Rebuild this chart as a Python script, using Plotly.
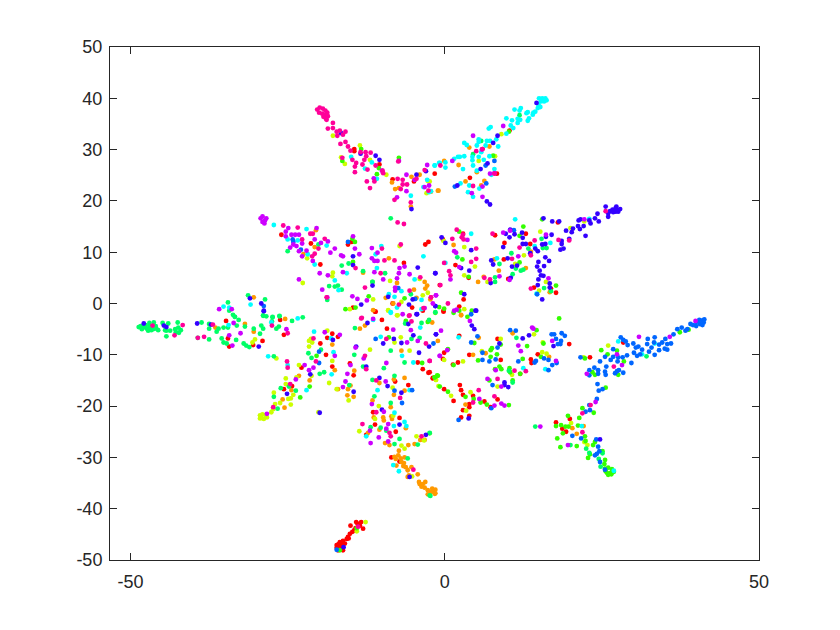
import plotly.graph_objects as go

red = [(-17.2,-47.1),(-16.7,-46.5),(-16.2,-46.3),(-15.6,-45.9),(-15.9,-46.8),(-16.6,-47.5),(-17,-48.1),(-16.2,-48.1),(-15.1,-44.9),(-14.7,-44.5),(-15.4,-45.5),(-14.1,-42.6),(-13.3,-42.6),(-15,-43.3),(-13.5,-43.3),(-13,-43.9),(-13.9,-42.9),(-14.2,-43.8),(-14.4,-44.2),(-16.9,-46.9),(-16.4,-47),(-15.3,-45.8),(-17.2,-47.6),
(-8.5,-30),(-7.2,-30.8),(-12.5,-25.6),(-11.1,-23.6),(-11.4,-21.2),(-7.8,-25),(-7.2,-22.3),(-5.8,-15.9),(-14.5,-14),(-17.9,-12.3),(-18.9,-10),(-17.9,-5.9),(-17,-6.5),(-18.7,-6.7),(-19.8,-7.8),(-25.6,-16.7),(-24.3,-16.1),(-22.8,-12.5),(-25.6,-6.1),(-30.5,-8.1),(-29,-7.3),(-34.5,-6.8),(-34.3,-8.4),(-34.8,-3.4),(-26.2,-3.2),(-15.1,-11.7),(-7.9,-15.2),(-9.2,-4.9),(-10,-3.2),(-3.5,-12.8),(-2.6,-13.5),(-1.9,-14.6),(-4.3,-11.5),(-11,-1.6),(-3.5,-1.4),
(-14.4,30.1),(-14.4,29.7),(-10.4,27.1),(-8.3,24.2),(-4.9,23.8),(-1.6,25.3),(-26,13.4),(-21.3,11.7),(-19.8,7.6),(-15.4,11.5),(-14.8,12),(-6.5,7.9),(-3.1,11.5),(-2.6,12),(-0.8,3.6),(-8.3,0),(-5.2,-0.8),(-11.1,-1.6),(-14.6,-0.8),
(4,24.5),(6,30.1),(8.3,25.3),(10.3,33.7),(18,15.8),(12.9,13.6),(8,13.3),(9.5,11.8),(13.6,11.6),(2.9,13.6),(-0.3,12.5),(9.4,8.6),(1.7,7.5),(3.8,5),(10.1,4.8),(14.2,3.1),(16.9,2.9),(17.7,2.1),(3,0.8),(2.3,-0.6),(-0.2,-1.6),
(19.8,-7.9),(23.1,-10.5),(28.4,-7.6),(17.7,-23.2),(19.9,-22.5),(18.7,-24.4),(19.3,-25),(14.8,-9.9),(13.7,-10.9),(13.8,-11.6),(8.9,-11),(8.4,-6.9),(3.9,-10),(2.1,-11.5),(1.3,-11.9),(-0.1,-9.6),(-0.3,-10.8),(2.3,-6.3),(2.4,-15.9),(2.6,-16.9),(-0.1,-16.7),(2.9,-17.8),(1.4,-19),(4.5,-18),(3.9,-19.6),(3.9,-20.2),(2.9,-20.8),(2.6,-22.2),(3.9,-21.9),(6.3,-19.1),(8.4,-18.7),(7.3,-20.2),(12,-13.7),(-2.4,-13.4),(-1.9,-14.5),(-0.2,-1.4)]

orange = [(-7.3,-28.7),(-7.4,-29.6),(-7.8,-30.3),(-6.4,-30),(-6.9,-30.9),(-6.2,-31.9),(-5.3,-31.9),(-5.9,-32.5),(-5.7,-33.5),(-4.3,-33.3),(-4.1,-34.8),(-3.1,-34.8),(-3.7,-35.7),(-3.2,-35.9),(-2.7,-36.4),(-1.9,-36.4),(-2.7,-37.2),(-1.5,-37),(-2.2,-36.8),(-7.7,-31.6),(-5.9,-33.8),(-5.8,-27.6),(-4.8,-27.4),(-3.2,-26.6),(-3.9,-26.6),(-7,-30.2),(-6.5,-31.1),(-6.6,-31.7),(-4,-35.2),(-3.5,-35.2),(-8,-29.9),
(-8.8,-27.6),(-9.5,-27.2),(-12.2,-25.2),(-10.4,-24.6),(-9.7,-22.8),(-9.8,-22.2),(-8.4,-22.5),(-11.3,-22.2),(-8.5,-22),(-6.2,-24.3),(-8.6,-20.2),(-8.1,-17.8),(-6.4,-17),(-6.4,-14.5),(-8.1,-14.8),(-11.5,-18.9),(-10.4,-15.5),(-15.5,-17.9),(-14.5,-18.2),(-15.4,-16.7),(-15,-16),(-14.4,-13.1),(-17.5,-13),(-17,-16.7),(-21.5,-15),(-23.2,-14.1),(-25.5,-20.3),(-25.8,-18.7),(-24.4,-16.9),(-25.4,-3),(-31.8,-4),(-36.5,-4.7),(-30.4,-5.5),(-13.5,-4.9),(-12.7,-4.3),(-17.9,-8),(-6.9,-9.2),(-2,-3.7),(-1.1,-7.3),
(-20.5,14.3),(-20.7,11),(-22.5,9.6),(-8.9,8.8),(-7.6,4),(-3.2,4.2),(-2.8,3.5),(-3.1,2.9),(-4.9,2.7),(-13,6),(-9.4,1.1),(-8.2,0),(-4.5,1.1),(-2.3,0.8),(-11.4,-1.3),(-30.4,1.2),(-5.3,24.7),(-8.4,23.6),(-7.9,22.3),(-7.3,22.5),(-4,25.1),(-5.4,18.9),(-1.1,22),(-2.2,21.8),
(-1,22),(3.3,23.8),(6.3,23.9),(5.8,23),(5.1,25.6),(2.2,27),(-0.1,27.8),(3.9,30.4),(7.1,30.6),(1.4,11.4),(5.3,4.2),(8.6,6.4),(12.9,6.9),(6.2,5.2),(16.7,2.2),(2.6,-2.3),(7.9,8.6),(13.7,10.1),
(2.6,-2.2),(5.4,-6.7),(4.5,-10),(6.5,-9.7),(3.3,-19.7),(20.3,-24.3),(21,-25.4),(22.1,-23.9),(10.8,-5.8),(16.6,-10.4),(-2,-36.1),(-1.6,-37.1),(-1.5,-36.3)]

lime = [(-29.4,-21.8),(-29,-21.6),(-28.5,-21.8),(-29.2,-22.3),(-28.8,-22.5),(-28.3,-22.2),(-29.4,-22.4),(-27.3,-20.6),(-27.6,-21.2),(-27,-19.6),(-26.2,-19.4),(-24.5,-19.7),(-24.5,-18.5),(-24.1,-17.8),(-24.9,-18.6),(-27.2,-17.4),(-25.3,-14.6),(-25.3,-15.7),(-23.6,-14.4),(-23.2,-12),(-26.8,-10.7),(-21.6,-7.3),(-21.3,-6.9),(-21.1,-7.6),(-21.6,-8.4),(-18.7,-5.3),(-17.9,-11.2),(-11.9,-9),(-18.4,-15.5),(-17.2,-16.7),(-21.2,-14.1),(-15.3,-18.9),(-20.1,-21.2),(-30.6,-7.6),(-30.2,-7),(-10.5,-20),(-11.1,-22.5),(-13.6,-24.9),(-8.3,-16.4),(-8.2,-21.9),(-6.4,-28.3),(-6.9,-27.7),(-4.5,-25.9),(-3.3,-26.7),(-5.2,-33.7),(-12.6,-42.6),(-14,-44.4),(-7,-6.6),(-8,-7.6),(-5.6,-9.2),(-7.5,-2.3),(-9,-1.4),(-1.4,-14.9),(-1,-16.1),
(-13.5,30.8),(-17.8,32.7),(-16.5,28.5),(-15.9,27.2),(-11.9,28),(-9.3,25.1),(-7.2,11.2),(-21.9,8.8),(-22.6,4),(-17.8,6),(-17.9,5.3),(-8.7,4.4),(-4,4.8),(-2.7,2.1),(-3.5,1.6),(-11.4,0.8),(-6.9,0.3),(-15.1,-1.1),(-9,-1.3),(-7.6,-2.3),(-2.9,21.5),(-2.7,23.9),
(9,33),(5.4,27.8),(8,28.7),(-2.4,23.8),(15.2,14),(-0.2,12.2),(3.1,11),(12.6,9.4),(11.2,7.7),(4.8,7.2),(3.1,5.5),(6.8,4.2),(16.1,4.2),(15,2.5),(3.1,-1.1),(20,14.7),(22.2,16),
(26,-8.2),(22.1,-10.5),(8.9,-6.9),(5.9,-9.3),(2.9,-11.3),(-0.1,-11),(-1.4,-14.9),(1,-18),(4.1,-17.3),(8.4,-16.2),(10.7,-13.9),(15.5,-9.5),(16.2,-9.8),(15.6,-7.6),(20.1,-23.3),(22.2,-27),(22.7,-27.6),(14.2,-6),(3.4,-20.9)]

green = [(25.5,-32.2),(26,-32),(26.6,-32.3),(26.9,-32.8),(26.4,-33),(25.8,-33),(26,-33.4),(26.5,-33.3),(25.6,-32.7),(25.5,-30.5),(25.4,-31.3),(25.1,-28.8),(23.9,-27),(23.6,-27.6),(23.1,-29.4),(22.8,-30.1),(22.4,-26.8),(22.3,-25.9),(21,-27.8),(18.4,-28),(17.9,-26.3),(18.8,-25.3),(17.7,-23.9),(18.5,-23.7),(19.2,-24),(19.7,-24),(21.2,-23.8),(19.6,-21.9),(21.4,-22.3),(21.9,-20.4),(23.7,-21.3),(25.6,-16.4),(23.9,-13.9),(23.5,-13.4),(22.3,-10.7),(24.9,-9.1),(25.9,-9.9),(27.4,-9.2),(28.5,-11.3),(27.6,-13.9),(37.4,-5.6),(38.8,-5.1),(18.2,-2.9),(15.7,-7.8),(13.1,-8.3),(14.6,-5.2),(12.4,-10.8),(15.3,-10.4),(8.9,-8),(7.5,-8.7),(7.3,-9.1),(8.3,-9.9),(7.3,-10.4),(5.3,-11.1),(4.7,-7.7),(1.4,-12),(8,-12.8),(8.7,-12.3),(9,-12.8),(10.3,-12.6),(10.4,-13.4),(12,-13.7),(7.1,-15),(10.8,-15),(5.7,-19.3),(6.7,-19.7),(10.2,-19.8),(4.6,-18.6),(3.3,-18.2),(0.5,-17.2),(-0.8,-16.2),(-1.1,-14.1),(-1.6,-14.4),(-2.4,-25.3),(0.5,-8.9),
(12.5,15),(15.5,16.4),(2.3,14),(2.8,8.6),(11.9,8),(3.8,5.2),(17.7,3.5),(2.6,2.1),(7.7,28.8),(11.9,13.2),(-0.1,-1),(2.3,-1.4),(4.3,-1.4),(1.4,-1.8),(3.6,-2.6),(-0.9,-0.7),(10.2,33.5),
(-13.3,30.1),(-16.3,27.8),(-10.5,26.4),(-10.8,25.2),(-7.3,28.4),(-14.3,12),(-14.7,12.6),(-14.6,8.1),(-11.5,4.2),(-12.1,1.4),(-15.8,-1.1),(-14.2,-0.8),(-6.4,1),(-1.5,-1.8),
(-20.4,-10.2),(-21.5,-16.2),(-23,-18.3),(-6.2,-3.4),(-2.7,-3.6),(-1.6,-14.4),(-1.2,-14),(-8.9,-6.6),(-3.6,-11.6),(-16.7,-48.1),(-14,-43.8)]

spring = [(-48.4,-4.4),(-48,-4.7),(-47.6,-4.2),(-47.4,-4.9),(-47,-4.4),(-46.8,-4.8),(-46.4,-5),(-46,-4.4),(-45.9,-4.9),(-45.6,-5.2),(-47,-3.8),(-46.3,-3.7),(-44.9,-3.8),(-44.5,-5.2),(-44,-3.9),(-43.7,-5.3),(-44.3,-5.3),(-42.9,-5),(-42.4,-4.7),(-42.3,-5.7),(-42,-5.2),(-42.8,-5.6),(-42.5,-3.7),(-44.3,-6.4),(-48.7,-4.6),(-48.2,-5),(-47.2,-5.3),(-46.7,-5.2),
(-38.7,-3.7),(-37.5,-4),(-37.5,-4.9),(-36,-4.9),(-35.2,-4.7),(-36.3,-5.5),(-34.5,-4.7),(-33.1,-4.3),(-31.8,-4.5),(-32.8,-3.2),(-33.7,-2.2),(-33.4,-2.6),(-34.3,-1.4),(-39.3,-6.7),(-37.5,-7),(-35.5,-6.8),(-35.2,-7.6),(-34.7,-7.8),(-33.2,-7.1),(-32,-7.8),(-31.6,-8.2),(-31.1,-8.5),(-29.4,-5.9),(-30.4,-4.9),(-29.2,-4.3),(-28.9,-4.9),(-28.9,-2.4),(-28.4,-2.5),(-27.4,-2.7),(-26.3,-2.5),(-26.8,-4.9),(-26.4,-4.5),(-24.3,-3.4),(-22.6,-2.7),(-27.5,-3.5),(-27.2,-10.3),(-26.1,-16.5),(-27.2,-18.2),(-26.6,-20.5),(-23.7,-17),(-24.8,-16.2),(-21.7,-9.7),(-21.2,-10.6),(-19.7,-9),(-19.9,-13.7),(-19.2,-13.4),(-14.3,-4.8),(-14.4,-10),(-13,-12.3),(-9.7,-12.6),(-11.5,-14.9),(-8,-14.1),(-8.6,-9.2),(-6.4,-11.5),(-8.6,-19.4),(-11.2,-18.1),(-11.8,-24.1),(-10.2,-24.2),(-9.3,-24.8),(-8,-27.4),(-7.2,-26.4),(-4.3,-27.5),(-2.4,-25.2),(-2.3,-37.5),(-5.9,-30.2),(-5.3,-6.9),(-3.7,-3.8),(-4,-6.7),(-6.3,-3.9),(-2.5,-3.2),(-15.2,-15.9),
(-8.6,16.6),(-18.4,3.4),(-17.5,3.3),(-17,3.5),(-16.4,2.7),(-16.4,7.4),(-15.3,7.8),(-13,6.3),(-9.5,5.9),(-11.5,4.2),(-20.1,11.5),(-25,10.2),(-31.3,1.6),(-34.5,0.2),(-28.6,0.8),(-33.4,-2.6),(-28.9,-2.3),(-26.3,-2.4),(-27.4,-2.6),(-18.7,0.7),(-5.4,1.8),
(11.9,36.7),(4.5,29.1),(5.8,31.7),(15.4,12.6),(13.3,10.7),(15.6,10.8),(16.2,10.8),(10.6,9.8),(8.7,7.7),(11.3,6.8),(12.1,6.4),(12.5,6.6),(10.8,5.7),(8,5.1),(8,4.2),(15.8,3),(16.9,2.4),(2,9),(-1.5,-1.7),
(22.5,-28.3),(23,-29.1),(25.1,-29.2),(24.5,-30.3),(24.8,-31.8),(14.4,-24),(10.2,-13.1),(10.8,-15.4),(11.4,-6.7),(32.1,-10.3),(-2.4,-37.4),(20,-27.6)]

cyan = [(15,40),(15.5,40),(16,40),(15.3,39.4),(15.8,39.4),(16.2,39.6),(14.9,38.8),(15.2,38.3),(14.8,38.1),(14.4,37.4),(14.1,37.2),(13.2,37.3),(13,37.1),(14,36.8),(12.1,38.1),(11.9,37.6),(11.1,37.8),(9.8,36.1),(10.7,35.7),(11.6,36),(12,35.8),(11.6,35.2),(13.4,36.1),(13.2,35.6),(10.5,34.7),(10.9,34.2),(9.8,33.1),(7.3,34.4),(7,34.1),(8.2,32),(6.7,31.7),(7.2,31.7),(5.4,32),(5.4,31.5),(3.1,31.3),(3.5,30.9),(5.1,30.8),(8.5,30.6),(6.5,30.8),(5.8,29.5),(4.4,28.6),(5.4,28.6),(4.4,27.9),(6.2,28),(7.1,28.7),(2.4,28.6),(2.1,28.6),(3.1,28.7),(1.5,28.2),(0.1,27.5),(-0.8,27.4),(-1.6,26.9),(0.1,26.5),(2.9,26.2),(4.5,26.9),(7.9,26.2),(5.1,25.9),(7.4,25.1),(2.5,23.4),(3.9,23),(5.5,22.4),(3.7,21.7),(4.5,20.8),(-2.2,21.9),
(11.2,16.4),(23,16.5),(14.3,11.2),(16.8,11.8),(4.2,13.6),(8.3,8.8),(0.1,7.9),(14.6,1.9),
(-14.9,28.6),(-11.6,27.5),(-12.7,26.3),(-10.8,24.3),(-2.8,24.1),(-5.4,21),(-3.4,22.7),(-2.5,21.7),(-1.6,26.9),(-0.9,27.4),(-27.2,15.3),(-22,14.5),(-25,12.5),(-23.4,12.3),(-18.8,11.3),(-21.8,9.6),(-20.7,7.6),(-10.1,11.2),(-11,9.6),(-3.4,9.2),(-10.8,6.9),(-17.5,4.5),(-15.6,5.9),(-16.9,2.6),(-4.8,4.7),(-30.9,-0.2),(-35.2,-0.6),(-34.3,-0.8),(-8.9,1.8),(-8,1.3),(-6.9,2.4),(-7.6,-0.8),(-8.6,-1.7),(-3.7,0.7),(-3.7,-1.1),
(-23.4,-2.9),(-27.6,-3.7),(-34.4,-4.2),(-28.1,-10.3),(-20.8,-5.5),(-17.7,-9.5),(-18.1,-6.8),(-18,-13.8),(-22,-16.9),(-25,-12),(-8.6,-1.8),(-10.2,-6.5),(-5,-11.5),(-5.6,-16.9),(-10.7,-16.9),(-8,-21.3),(-6.4,-23.1),(-6.1,-23.9),(-8.2,-31.5),(-7.3,-32.7),(-12.5,-25.9),(-8.1,-23.9),(-11.4,-3.2),(-6.8,-10.2),(-3.9,-4.7),
(2.2,-6.6),(12.5,-12.6),(16,-12.8),(21.8,-23.9),(26.9,-32.6),(27.6,-7.4),(31.4,-9.9),(33.4,-7.8)]

azure = [(40,-3.6),(40.5,-3.2),(41,-3.3),(41.2,-3.7),(40.6,-4),(41,-4.2),(40,-4.4),(41.3,-3.1),(39.5,-4.2),(39.1,-4),(38.3,-5.3),(38.6,-5),(37.7,-4.7),(37,-5),(36.4,-6),(35.1,-6.9),(34.6,-7.6),(36,-7.8),(35.4,-7.9),(35,-8.8),(35.4,-9),(34.1,-8),(34.1,-9.1),(33.4,-6.6),(33.3,-7.6),(32.3,-6.9),(32.2,-7.9),(32.9,-8.6),(32.5,-9.4),(33.4,-10),(31.4,-9),(30.8,-8.4),(30.4,-8.6),(30,-7.8),(30.1,-9.6),(30.6,-10.2),(31.1,-9.9),(29.1,-8.1),(28.8,-7.4),(28,-6.6),(28.4,-7.1),(29,-10.1),(28.3,-10.5),(27.6,-10.5),(27.5,-11.3),(26.8,-8.9),(26.8,-10.4),(26.4,-11),(25.5,-10.4),(24.7,-11.3),(29.7,-11.6),(25.7,-12.3),(25.5,-13.3),(25.6,-13.9),(27.1,-13.6),(27.4,-13.2),(27.7,-13),(28.4,-13.5),(23.8,-12.5),(24.4,-13),(24.4,-13.7),(23,-13),(23,-14),(21.6,-10.5),(24.3,-15.7),(24.5,-17),(25.1,-16.7),(24.2,-18.6),(23.1,-20.8),(22.4,-21.1),(20.3,-25.8),(21.7,-26.3),(23,-19.8),(24.1,-26.5),(24.4,-27.9),(24.6,-28.8),(24.2,-29.3),(23.9,-29.6),(24.7,-30.9),(25.5,-32.4),
(10.4,-5.2),(11.3,-5.3),(17.4,-6),(17,-6),(18.6,-5.8),(19.1,-6.3),(18.5,-7.3),(17.7,-6.9),(18,-7.9),(18.4,-7.9),(5.2,-6.4),(4.2,-7.6),(8.4,-8.6),(6,-9.6),(8.1,-10.9),(7.1,-11.3),(6,-11),(-1.8,-7.8),(11.7,-11.3),(14.5,-11.2),(14.3,-11.5),(15.8,-10.7),(16.5,-11),(17.1,-12),(17.8,-11.6),(16.5,-13),(7.6,-15.9),(7.4,-20.4),(2.2,-22.7),
(-20,-11.6),(-20,-9.4),(-8,-17),(-5.2,-16.9),(-6.8,-19.4),(-17.2,-48),(-11,-6.9),
(7.9,27.8),(6.5,26.9),(6.6,23.4),(1.6,22.8),(11,14.3),(14.7,1.8),(4.2,-2.1),
(-24.2,12.5),(-24.1,12),(-22.9,10.5),(-15.4,12),(-28.8,-0.5),(-7.4,3),(-4.7,0.9)]

blue = [(-13.4,29.2),(-11,28.8),(-10.4,28),(-4.5,25.1),(-5.3,18.4),(-3,25.8),(-14.6,9.2),(-14.6,7.5),(-4.3,7),(-1.5,5.9),(-11.5,3.5),(-13.3,-0.2),(-5.7,-0.2),(-5.1,0.8),(-4.5,-2.1),(-1.5,-0.5),(-9,1.3),(-31,1),(-29.2,0),(-28.8,-1.5),(-16.5,33.2),
(14.6,39.1),(8.4,32.7),(7.7,31.3),(5.7,26.2),(6.8,27.3),(6.7,19.9),(7.2,19.3),(2,23),(26.3,18),(26.7,18.3),(27.2,18.6),(27.5,18.2),(27.9,18.4),(27.2,17.9),(26.8,17.8),(27.6,17.9),(27.3,18.9),(25.6,18.9),(26,17.6),(26,16.9),(24.3,17.5),(23.9,16.6),(24.5,16),(23,16.2),(23.2,15.6),(21.6,16.4),(21.3,16.2),(21.2,15.1),(20.4,14.6),(21.5,14.5),(22.1,15.1),(20.2,13.9),(19.3,14.2),(18.2,16),(17.1,16),(15.7,16.6),(22.4,13.2),(19.8,12.6),(18.6,12.2),(18.6,11.6),(18.9,10.7),(18.4,10.5),(17,13.4),(16.1,13),(16,11.6),(15.5,11.5),(14.8,10.2),(14.4,10.7),(12.9,11.6),(12.4,11.6),(12.4,12.8),(12.3,13.8),(11.1,13.5),(10.4,14.4),(9.7,13.6),(10.3,12.9),(9.3,11),(4.2,10.4),(-0.5,12.9),(0.1,11.8),(-1.5,5.9),(3.9,6.4),(2.6,6.9),(7.4,8.4),(7.7,7.6),(10,8.8),(10.7,7.2),(11.5,7.4),(13.6,9.8),(14.9,8.1),(14.7,7.2),(15.8,7.3),(16.6,8.3),(15.1,6.4),(15.3,5.5),(15.7,5.4),(14.9,4.7),(14.8,3.6),(16.7,3.9),(16.7,3.1),(15.5,0.8),(16,9),(10.5,5),(7.3,4),(3.1,1.8),(-1.5,-0.5),(5,-1.4),
(-47.9,-3.9),(-44.7,-4.3),(-44.3,-4.6),(-39.4,-3.9),(-37.2,-4.1),(-28.8,-1.4),(-29.6,-8.4),(-21.4,-13.8),(-19.9,-21.3),(-25.1,-17.6),(-17.8,-7.1),(-14.1,-8.4),(-12.3,-3.8),(-9.8,-7.8),(-8.1,-6.9),(-6.9,-7.7),(-5,-6.2),(-4.1,-9.6),(-2.5,-8.4),(-1.4,-6),(-4.4,-2.1),(-5.8,-4),(-12.5,-12.3),(-10.4,-14.5),(-9.1,-16.1),(-6.9,-17.4),(-14.5,-17.2),(-10,-20.7),(-7.2,-23.6),(-3,-25.6),(-5.6,-33.8),(-16.1,-47.5),
(4.9,-1.4),(4.3,-4.3),(4.7,-5),(-1.4,-6),(8.7,-7.8),(12.4,-6.8),(13.4,-6.2),(17.3,-8.3),(9.5,-15.4),(9.5,-15.9),(10.1,-16.3),(3.8,-22.4),(24.7,-26.5)]

purple = [(-29.3,16.6),(-29,17),(-28.6,16.2),(-29,15.9),(-28.4,16.6),(-28.7,15.6),(-24.9,14.7),(-25.3,14),(-25.3,13.1),(-24.4,13.4),(-23.8,13.4),(-23.2,13.4),(-20.4,14.7),(-20.7,12.5),(-22.7,11.7),(-23.6,11.2),(-24.6,10.9),(-24.1,11.5),(-22,10.3),(-23.2,10.2),(-22.7,9.2),(-19.7,11.8),(-18.6,12.1),(-17.5,10.7),(-18.2,9.9),(-16.5,9.4),(-16.2,9.2),(-21,8.3),(-14.6,13.1),(-14.3,10.7),(-13.6,9.6),(-11.6,10.8),(-10.7,9.9),(-11.6,8.8),(-11.2,8.3),(-10.7,8.3),(-6.4,7.2),(-7.2,6.9),(-7.3,5.9),(-5.6,5.7),(-7.6,4.9),(-11.2,6.1),(-9.8,4.7),(-16.2,6.1),(-18.6,5.5),(-19.9,5.9),(-23.2,4.7),(-19.5,2.7),(-7.9,3.1),(-7.9,2.5),(-14.7,1.4),(-13.9,0.9),(-12.4,0.6),(-18.7,1.2),(-35.9,-1.1),(-33.9,-1.1),(-6.7,-2.1),(-11.4,-3),(-3.2,-0.9),(-1.4,1.6),(-4.8,24.1),(-6.1,25.1),(-7.6,20.7),(-6.1,21.9),(-3.2,22.7),(-2.5,23),(-11.3,24.4),(-10,25.9),(-7.3,27.8),(-2.8,27),
(4.5,32.7),(9.3,34.6),(1.2,27.8),(5.9,30),(7.2,25.3),(7.9,25.4),(6,22.8),(6,20.8),(4.3,21.5),(22.2,16.4),(16.1,13.4),(10.4,14.2),(9.3,13.8),(3.6,12.4),(1.5,10.2),(1.8,9.9),(2.3,7.1),(0.9,4.7),(11.7,9.2),(16.5,4.9),(8.7,5.3),(10.3,4.6),(-1.4,1.6),(-1.9,0),(1.5,-1.4),(1.9,-1.2),
(-33.6,-3.8),(-32.5,-5.8),(-34.3,-6.2),(-33.8,-8.2),(-25.2,-5),(-19.1,-5.6),(-16.7,-6.1),(-22.3,-12),(-21.6,-13),(-20.9,-12.5),(-23.7,-14.8),(-28.3,-21.5),(-17.5,-10.2),(-15,-12),(-15.5,-13.7),(-15.8,-15.2),(-16.2,-16.3),(-12.9,-10.7),(-14.2,-8.6),(-8.2,-5.1),(-4.3,-7.3),(-6,-7.6),(-9.3,-11.6),(-9.4,-15.2),(-11.6,-19.6),(-9.7,-21.1),(-9.3,-24.4),(-9,-23.5),(-11.8,-27.2),(-9,-26.9),(-11.9,-24.8),(-10.5,-26.1),(-0.8,-10.2),(-5.4,-5.2),
(-0.6,-5.3),(0.4,-9.1),(-0.8,-10.2),(4,-3.4),(11.7,-8.2),(12.1,-9.3),(13.9,-4.7),(14.1,-4.9),(17.1,-7.3),(17.7,-11.2),(8.1,-13),(6.8,-14.7),(9,-16.2),(5.5,-18.6),(7.9,-19.9),(9,-19.5),(9.5,-19.9),(15.2,-24),(19.6,-27.6),(22.6,-13.7),(24,-19.2),(27.4,-9.9),(28.2,-12),(30.9,-6.5),(35.8,-6.5),(39.9,-3.4)]

pink = [(-20.3,37.8),(-19.9,38.2),(-19.4,38),(-19,37.6),(-20,37.2),(-19.5,37),(-19,36.8),(-18.7,37.2),(-19.3,36.4),(-18.9,36),(-18.6,36.5),(-18.8,35.8),(-17.8,35.2),(-17.8,34.2),(-18.6,34.1),(-17.2,33.5),(-17.1,32.7),(-16.7,33.7),(-15.8,33.5),(-16.2,32.9),(-16.6,31.1),(-15.8,31.5),(-15.4,30.6),(-15,29.8),(-13.4,29.5),(-12.6,29.5),(-11.8,29.4),(-12.5,28.7),(-12.8,28),(-13.1,27.1),(-14.1,27.4),(-14.3,26.7),(-14.7,28),(-16.3,28.4),(-14.3,25.6),(-12.3,26.1),(-11,26.9),(-9.9,25.9),(-9.8,25.4),(-12.4,23.8),(-11.2,23.8),(-11.9,22.5),(-7.5,24.3),(-6.7,24.1),(-6.7,23.2),(-6,23.2),(-7,22.3),(-8,20.2),(-5.4,19.7),(-7.4,27.7),(-3.2,26),(-2.6,22),(-4.5,24.3),
(-7.5,15.8),(-6.5,15.5),(-25.7,15.2),(-23.4,14.8),(-21.4,13.6),(-21,13.6),(-22.7,12.5),(-19.1,12.6),(-20.1,10.7),(-20.7,9.7),(-21.1,9.2),(-10,10.7),(-7,11.5),(-9.6,8.4),(-8,8.4),(-14.2,6.9),(-10.2,5.9),(-3.9,5.1),(-12.7,3.1),(-18.8,1.2),(-2.2,1.2),(-5.6,2.5),(-7.3,-0.2),(-13.2,-2.8),(-3.4,-0.9),(-5.6,-2.3),
(-13.3,-2.9),(-36.9,-4.1),(-46.5,-4.3),(-41.7,-4.2),(-43,-6.2),(-39.3,-6.7),(-38.3,-6.5),(-25,-5.8),(-27.5,-4.3),(-25.1,-11.3),(-25,-12.5),(-20.9,-6.8),(-20.5,-11.3),(-27.3,-20.2),(-24.6,-15.7),(-12.7,-10.2),(-12.5,-12.8),(-10.9,-15),(-7.1,-18.4),(-13.1,-23.5),(-10.9,-21.2),(-8.8,-25.2),(-8.6,-25.9),(-3.7,-25.9),(-5.3,-3.5),(-3,-7.8),(-2.4,-11.2),(-9.3,-6.9),(-13.8,-43.5),(-5,-32.4),(-5.7,-2.4),
(-0.7,26.9),(5,29.7),(6,30.1),(4.5,22.9),(1.9,14.4),(1.2,12.6),(2.9,13.4),(2.7,12.9),(3,12.5),(7.6,13.6),(11.9,10.9),(14.3,12.3),(10.7,8.7),(5,10.7),(5,8.7),(4.2,8.1),(-0.1,7.9),(0.7,6.3),(0.9,5.5),(-0.7,3.6),(13.7,2.9),(6.3,5),(7.2,4.7),(13.7,9.4),(18.1,12.4),(19.8,12.3),(25.6,18),(0.5,0),(-2.2,1.2),(7.9,25.3),
(5.4,-16.9),(4.5,-19.3),(7.9,-18.1),(8.4,-14.7),(11.1,-13.1),(12.9,-13.2),(26.9,-12.3),(23.2,-19.8),(21.9,-21.4),(21.9,-25.1),(-2.4,-11.2)]

series = [("red", red, "#ff0000"), ("orange", orange, "#ff9900"), ("lime", lime, "#ccff00"),
          ("green", green, "#33ff00"), ("spring", spring, "#00ff66"), ("cyan", cyan, "#00ffff"),
          ("azure", azure, "#0066ff"), ("blue", blue, "#3300ff"), ("purple", purple, "#cc00ff"),
          ("pink", pink, "#ff0099")]

x_ticks = [-50, 0, 50]
y_ticks = [-50, -40, -30, -20, -10, 0, 10, 20, 30, 40, 50]

fig = go.Figure()
for name, pts, color in series:
    fig.add_trace(go.Scatter(x=[p[0] for p in pts], y=[p[1] for p in pts], mode="markers", name=name,
                             marker=dict(color=color, size=4.8, line=dict(width=0)), showlegend=False))

axis_style = dict(showgrid=False, zeroline=False, showline=True, linecolor="#262626", linewidth=1,
                  ticks="inside", ticklen=7, tickwidth=1, tickcolor="#262626", mirror="ticks",
                  tickfont=dict(family="Liberation Sans", size=18, color="#262626"))
fig.update_xaxes(range=[-53.27, 50], tickmode="array", tickvals=x_ticks, ticklabelstandoff=5,
                 ticktext=[str(v) for v in x_ticks], **axis_style)
fig.update_yaxes(range=[-50, 50], tickmode="array", tickvals=y_ticks, ticklabelstandoff=3,
                 ticktext=[str(v) for v in y_ticks], **axis_style)
fig.update_layout(width=832, height=622, paper_bgcolor="white", plot_bgcolor="white",
                  margin=dict(l=101.5, r=80.5, t=39, b=69.5), autosize=False)
fig.write_html("out.html")
